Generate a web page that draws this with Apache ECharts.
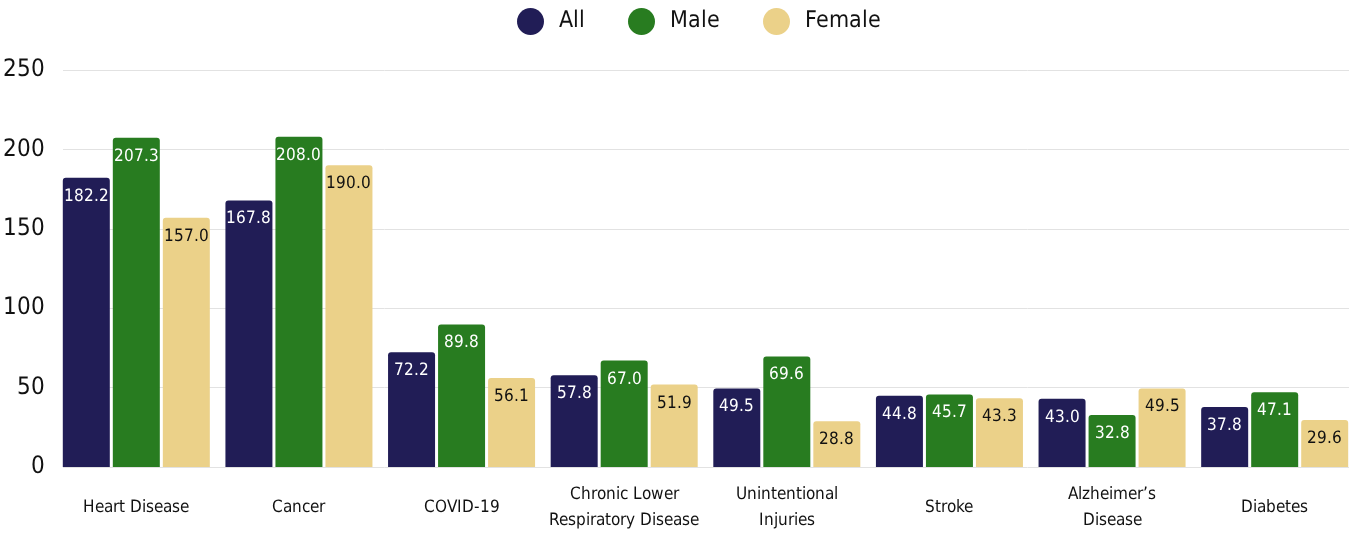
<!DOCTYPE html>
<html>
<head>
<meta charset="utf-8">
<script src="https://cdn.jsdelivr.net/npm/echarts@6/dist/echarts.min.js"></script>
<style>
  @font-face {
    font-family: 'CondFont';
    src: local('Liberation Sans Narrow'), local('LiberationSansNarrow'),
         local('DejaVu Sans Condensed'), local('DejaVuSansCondensed');
  }
  html, body { margin: 0; padding: 0; background: #fff; }
  #chart { width: 1351px; height: 536px; }
</style>
</head>
<body>
<div id="chart"></div>
<script type="text/javascript">
  var categories = ['Heart Disease', 'Cancer', 'COVID-19', 'Chronic Lower\nRespiratory Disease',
    'Unintentional\nInjuries', 'Stroke', 'Alzheimer\u2019s\nDisease', 'Diabetes'];
  var allValues = [182.2, 167.8, 72.2, 57.8, 49.5, 44.8, 43.0, 37.8];
  var maleValues = [207.3, 208.0, 89.8, 67.0, 69.6, 45.7, 32.8, 47.1];
  var femaleValues = [157.0, 190.0, 56.1, 51.9, 28.8, 43.3, 49.5, 29.6];
  var yTicks = [0, 50, 100, 150, 200, 250];

  var font = 'CondFont, "DejaVu Sans", sans-serif';

  function barSeries(name, data, color, textColor) {
    return {
      name: name,
      type: 'bar',
      xAxisIndex: 1,
      yAxisIndex: 1,
      data: data,
      barWidth: 47,
      barGap: '6.4%',
      itemStyle: { color: color, borderRadius: [3, 3, 0, 0] },
      label: {
        show: true,
        position: 'insideTop',
        distance: 10,
        color: textColor,
        fontFamily: font,
        fontSize: 17,
        formatter: function (p) { return p.value.toFixed(1); }
      }
    };
  }

  function draw() {
    var myChart = echarts.init(document.getElementById('chart'));
    var option = {
      animation: false,
      textStyle: { fontFamily: font },
      legend: {
        top: 3,
        left: 512,
        itemWidth: 27,
        itemHeight: 27,
        itemGap: 43,
        icon: 'circle',
        textStyle: { fontFamily: font, fontSize: 23, color: '#111', padding: [0, 0, 0, 10] },
        data: ['All', 'Male', 'Female']
      },
      grid: [
        // grid lines and y labels
        { left: 63, right: 2, top: 70, bottom: 69, outerBoundsMode: 'none' },
        // bars
        { left: 55, width: 1301, top: 70, bottom: 69, outerBoundsMode: 'none' }
      ],
      xAxis: [
        { gridIndex: 0, type: 'category', data: categories, show: false },
        {
          gridIndex: 1,
          type: 'category',
          data: categories,
          axisLine: { show: false },
          axisTick: { show: false },
          axisLabel: {
            interval: 0,
            margin: 41,
            verticalAlign: 'middle',
            color: '#111',
            fontFamily: font,
            fontSize: 17,
            lineHeight: 26
          }
        }
      ],
      yAxis: [
        {
          gridIndex: 0,
          type: 'value',
          min: yTicks[0],
          max: yTicks[yTicks.length - 1],
          interval: 50,
          axisLine: { show: false },
          axisTick: { show: false },
          axisLabel: { margin: 18, color: '#111', fontFamily: font, fontSize: 24 },
          splitLine: { lineStyle: { color: '#e2e2e2', width: 1 } }
        },
        {
          gridIndex: 1,
          type: 'value',
          min: yTicks[0],
          max: yTicks[yTicks.length - 1],
          interval: 50,
          show: false,
          splitLine: { show: false }
        }
      ],
      series: [
        barSeries('All', allValues, '#211d56', '#ffffff'),
        barSeries('Male', maleValues, '#287c20', '#ffffff'),
        barSeries('Female', femaleValues, '#ebd189', '#111111')
      ]
    };
    myChart.setOption(option);
  }

  if (document.fonts && document.fonts.load) {
    document.fonts.load('20px CondFont').then(draw, draw);
  } else {
    draw();
  }
</script>
</body>
</html>
